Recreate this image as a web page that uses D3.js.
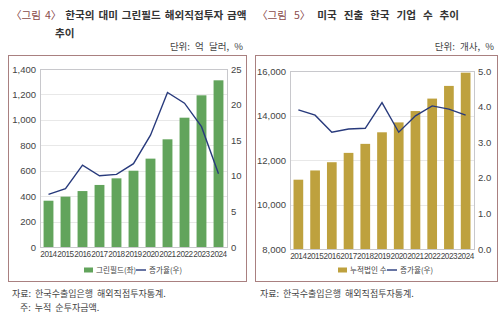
<!DOCTYPE html>
<html>
<head>
<meta charset="utf-8">
<script src="https://cdn.jsdelivr.net/npm/d3@7/dist/d3.min.js"></script>
<style>
  html, body { margin: 0; padding: 0; background: #fff; }
  svg { display: block; font-family: "Noto Sans CJK KR", "Noto Sans", sans-serif; }
</style>
</head>
<body>
<svg id="chart" width="500" height="328"></svg>
<script>
// Years shared by both panels
const years = ["2014","2015","2016","2017","2018","2019","2020","2021","2022","2023","2024"];

// Figure 4: cumulative greenfield FDI into the US (100 million USD) and growth rate (%)
const greenfieldAmount = [364, 396, 440, 488, 540, 600, 695, 847, 1017, 1193, 1311];
const greenfieldGrowth = [7.4, 8.2, 11.5, 10.0, 10.2, 11.7, 15.7, 21.7, 20.2, 16.9, 10.3];

// Figure 5: cumulative number of Korean firms in the US and growth rate (%)
const firmCount = [11115, 11530, 11900, 12320, 12725, 13245, 13690, 14200, 14760, 15330, 15925];
const firmGrowth = [3.91, 3.76, 3.28, 3.37, 3.39, 4.11, 3.28, 3.74, 4.02, 3.93, 3.76];

// Axis tick values
const leftTicks4 = [0, 200, 400, 600, 800, 1000, 1200, 1400];
const rightTicks4 = [0, 5, 10, 15, 20, 25];
const leftTicks5 = [8000, 10000, 12000, 14000, 16000];
const rightTicks5 = [0, 1, 2, 3, 4, 5];

const svg = d3.select("#chart");
const fmtComma = d3.format(",");
const fmt1 = d3.format(".1f");
const numFont = "'Liberation Sans', Arial, sans-serif";

function panel(cfg) {
  const g = svg.append("g");
  // panel frame
  g.append("rect")
    .attr("x", cfg.box[0] + 0.5).attr("y", cfg.box[1] + 0.5)
    .attr("width", cfg.box[2]).attr("height", cfg.box[3])
    .attr("fill", "none").attr("stroke", "#a98080").attr("stroke-width", 1);

  const x = d3.scaleBand().domain(years).range([cfg.plot.x0, cfg.plot.x1]).paddingInner(0.42).paddingOuter(0.21);
  const yL = d3.scaleLinear().domain(cfg.leftDomain).range([cfg.plot.y1, cfg.plot.y0]);
  const yR = d3.scaleLinear().domain(cfg.rightDomain).range([cfg.plot.y1, cfg.plot.y0]);

  // horizontal grid
  g.append("g").selectAll("line").data(cfg.leftTicks).join("line")
    .attr("x1", cfg.plot.x0).attr("x2", cfg.plot.x1)
    .attr("y1", d => Math.round(yL(d)) + 0.5).attr("y2", d => Math.round(yL(d)) + 0.5)
    .attr("stroke", "#e8e8e8");

  // bars
  g.append("g").selectAll("rect").data(cfg.bars).join("rect")
    .attr("x", (d, i) => x(years[i]))
    .attr("width", x.bandwidth())
    .attr("y", d => yL(d))
    .attr("height", d => yL(cfg.leftDomain[0]) - yL(d))
    .attr("fill", cfg.barColor);

  // growth line
  const line = d3.line().x((d, i) => x(years[i]) + x.bandwidth() / 2).y(d => yR(d));
  g.append("path").datum(cfg.line).attr("d", line)
    .attr("fill", "none").attr("stroke", "#283a7c").attr("stroke-width", 1.4);

  // plot frame
  g.append("rect")
    .attr("x", cfg.plot.x0 + 0.5).attr("y", cfg.plot.y0 + 0.5)
    .attr("width", cfg.plot.x1 - cfg.plot.x0).attr("height", cfg.plot.y1 - cfg.plot.y0)
    .attr("fill", "none").attr("stroke", "#c8c8cc");

  // axes
  const axL = d3.axisLeft(yL).tickValues(cfg.leftTicks).tickFormat(fmtComma).tickSize(0).tickPadding(4);
  const axR = d3.axisRight(yR).tickValues(cfg.rightTicks).tickFormat(cfg.rightFormat).tickSize(0).tickPadding(4);
  const axB = d3.axisBottom(x).tickSize(0).tickPadding(4);
  const gl = g.append("g").attr("transform", `translate(${cfg.plot.x0},0)`).call(axL);
  const gr = g.append("g").attr("transform", `translate(${cfg.plot.x1},0)`).call(axR);
  const gb = g.append("g").attr("transform", `translate(0,${cfg.plot.y1})`).call(axB);
  [gl, gr, gb].forEach(a => {
    a.select(".domain").remove();
    a.selectAll("text").attr("fill", "#444").style("font-family", numFont).style("font-size", "9.5px");
  });
  gb.selectAll("text").style("font-size", "8.2px").attr("letter-spacing", "-0.45");

  // legend
  const lg = g.append("g").style("font-size", "7.6px").attr("fill", "#444");
  lg.append("rect").attr("x", cfg.legend[0]).attr("y", cfg.legend[1] - 2.5).attr("width", 9).attr("height", 5).attr("fill", cfg.barColor);
  lg.append("text").attr("x", cfg.legend[0] + 12).attr("y", cfg.legend[1] + 2.8).text(cfg.legendBar);
  lg.append("line").attr("x1", cfg.legend[2]).attr("x2", cfg.legend[2] + 10)
    .attr("y1", cfg.legend[1]).attr("y2", cfg.legend[1]).attr("stroke", "#283a7c").attr("stroke-width", 1.4);
  lg.append("text").attr("x", cfg.legend[2] + 13).attr("y", cfg.legend[1] + 2.8).text("증가율(우)");

  // titles and notes
  const t = g.append("text").attr("x", cfg.titleX).attr("y", 19)
    .style("font-size", "10.6px").style("font-weight", "bold").attr("word-spacing", cfg.wordSpacing).attr("fill", "#333");
  t.append("tspan").attr("fill", "#8a4a4a").style("font-weight", "normal").text(cfg.titleTag);
  t.append("tspan").text(cfg.title1);
  if (cfg.title2) {
    g.append("text").attr("x", cfg.title2X).attr("y", 37).style("font-size", "10.6px").style("font-weight", "bold").attr("fill", "#333").text(cfg.title2);
  }
  g.append("text").attr("x", cfg.box[0] + cfg.box[2] - 3).attr("y", 50).attr("text-anchor", "end")
    .style("font-size", "9.5px").attr("word-spacing", "3").attr("fill", "#444").text(cfg.unit);
  cfg.notes.forEach((n, i) => {
    g.append("text").attr("x", n[0]).attr("y", 297 + i * 14).style("font-size", "9px").attr("word-spacing", "2").attr("fill", "#444").text(n[1]);
  });
}

panel({
  box: [8, 55, 238, 226],
  plot: { x0: 40, x1: 227, y0: 69, y1: 247 },
  leftDomain: [0, 1400], rightDomain: [0, 25],
  leftTicks: leftTicks4, rightTicks: rightTicks4, rightFormat: d3.format("d"),
  bars: greenfieldAmount, line: greenfieldGrowth, barColor: "#62a45c",
  legend: [84, 270, 136], legendBar: "그린필드(좌)",
  titleX: 11, wordSpacing: 1.5, titleTag: "〈그림 4〉 ", title1: "한국의 대미 그린필드 해외직접투자 금액",
  title2: "추이", title2X: 55,
  unit: "단위: 억 달러, %",
  notes: [[12, "자료: 한국수출입은행 해외직접투자통계."], [20, "주: 누적 순투자금액."]]
});

panel({
  box: [255, 55, 242, 226],
  plot: { x0: 290, x1: 474, y0: 71, y1: 249 },
  leftDomain: [8000, 16000], rightDomain: [0, 5],
  leftTicks: leftTicks5, rightTicks: rightTicks5, rightFormat: fmt1,
  bars: firmCount, line: firmGrowth, barColor: "#bea13e",
  legend: [338, 270, 387], legendBar: "누적법인 수",
  titleX: 257, wordSpacing: 4.5, titleTag: "〈그림 5〉 ", title1: "미국 진출 한국 기업 수 추이",
  unit: "단위: 개사, %",
  notes: [[260, "자료: 한국수출입은행 해외직접투자통계."]]
});
</script>
</body>
</html>
